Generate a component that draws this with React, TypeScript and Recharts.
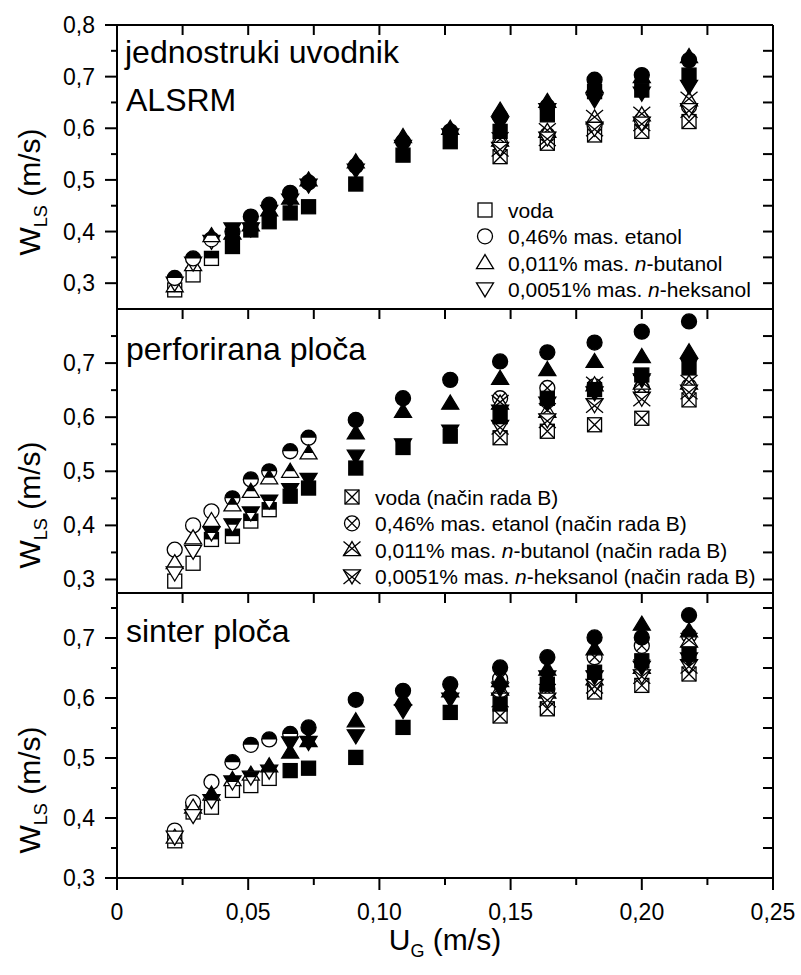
import { ScatterChart, Scatter, XAxis, YAxis, ReferenceLine } from 'recharts';

// superficial gas velocity U_G (m/s)
const UG = [0.022, 0.029, 0.036, 0.044, 0.051, 0.058, 0.066, 0.073, 0.091, 0.109, 0.127, 0.146, 0.164, 0.182, 0.2, 0.218];
// points measured in "način rada B"
const UG_B = [0.146, 0.164, 0.182, 0.2, 0.218];

const X_TICKS = [0, 0.025, 0.05, 0.075, 0.1, 0.125, 0.15, 0.175, 0.2, 0.225, 0.25];
const Y_TICKS_1 = [0.3, 0.35, 0.4, 0.45, 0.5, 0.55, 0.6, 0.65, 0.7, 0.75, 0.8];
const Y_TICKS_23 = [0.3, 0.35, 0.4, 0.45, 0.5, 0.55, 0.6, 0.65, 0.7, 0.75];

// o = open, h = half filled, f = filled
// jednostruki uvodnik (ALSRM)
const P1_VODA = [0.287, 0.316, 0.348, 0.371, 0.403, 0.419, 0.436, 0.448, 0.492, 0.548, 0.574, 0.594, 0.626, 0.671, 0.674, 0.703];
const P1_ETANOL = [0.31, 0.348, 0.385, 0.4, 0.429, 0.452, 0.475, 0.495, 0.527, 0.574, 0.594, 0.623, 0.642, 0.694, 0.703, 0.732];
const P1_BUTANOL = [0.295, 0.336, 0.392, 0.397, 0.413, 0.442, 0.465, 0.5, 0.535, 0.584, 0.6, 0.635, 0.652, 0.681, 0.7, 0.739];
const P1_HEKSANOL = [0.3, 0.339, 0.381, 0.405, 0.405, 0.439, 0.461, 0.49, 0.519, 0.565, 0.587, 0.61, 0.636, 0.655, 0.668, 0.681];
const P1_REG = ['oohfffffffffffff', 'hhhfffffffffffff', 'oohfffffffffffff', 'ooofffffffffffff'];
const P1_VODA_B = [0.545, 0.571, 0.587, 0.594, 0.613];
const P1_ETANOL_B = [0.571, 0.587, 0.606, 0.616, 0.642];
const P1_BUTANOL_B = [0.577, 0.594, 0.62, 0.626, 0.655];
const P1_HEKSANOL_B = [0.561, 0.581, 0.6, 0.61, 0.636];

// perforirana ploča
const P2_VODA = [0.297, 0.33, 0.374, 0.38, 0.408, 0.429, 0.454, 0.469, 0.506, 0.544, 0.565, 0.601, 0.635, 0.651, 0.678, 0.691];
const P2_ETANOL = [0.355, 0.4, 0.426, 0.45, 0.485, 0.5, 0.537, 0.562, 0.595, 0.635, 0.669, 0.703, 0.72, 0.738, 0.758, 0.777];
const P2_BUTANOL = [0.331, 0.377, 0.409, 0.438, 0.463, 0.488, 0.5, 0.534, 0.571, 0.611, 0.626, 0.672, 0.688, 0.703, 0.712, 0.721];
const P2_HEKSANOL = [0.312, 0.352, 0.386, 0.401, 0.423, 0.445, 0.466, 0.485, 0.528, 0.549, 0.574, 0.611, 0.626, 0.645, 0.669, 0.697];
const P2_REG = ['oohhhhffffffffff', 'ooohhhhhffffffff', 'ooohhhhhffffffff', 'oohhhhffffffffff'];
const P2_VODA_B = [0.562, 0.574, 0.586, 0.598, 0.632];
const P2_ETANOL_B = [0.635, 0.654, 0.657, 0.654, 0.657];
const P2_BUTANOL_B = [0.626, 0.611, 0.66, 0.663, 0.663];
const P2_HEKSANOL_B = [0.583, 0.595, 0.623, 0.635, 0.648];

// sinter ploča
const P3_VODA = [0.362, 0.41, 0.418, 0.446, 0.454, 0.466, 0.479, 0.483, 0.501, 0.551, 0.576, 0.59, 0.623, 0.643, 0.662, 0.673];
const P3_ETANOL = [0.379, 0.426, 0.46, 0.493, 0.522, 0.531, 0.54, 0.551, 0.597, 0.612, 0.623, 0.651, 0.668, 0.701, 0.701, 0.738];
const P3_BUTANOL = [0.368, 0.418, 0.44, 0.464, 0.473, 0.487, 0.51, 0.529, 0.562, 0.598, 0.612, 0.629, 0.648, 0.682, 0.723, 0.712];
const P3_HEKSANOL = [0.368, 0.404, 0.429, 0.46, 0.468, 0.478, 0.525, 0.526, 0.537, 0.579, 0.598, 0.615, 0.635, 0.635, 0.651, 0.665];
const P3_REG = ['ooooooffffffffff', 'ooohhhhfffffffff', 'oohhhfffffffffff', 'oohhhhffffffffff'];
const P3_VODA_B = [0.57, 0.582, 0.61, 0.621, 0.64];
const P3_ETANOL_B = [0.632, 0.615, 0.668, 0.687, 0.704];
const P3_BUTANOL_B = [0.615, 0.61, 0.632, 0.651, 0.695];
const P3_HEKSANOL_B = [0.598, 0.598, 0.621, 0.637, 0.654];

const LEGEND_1 = ['voda', '0,46% mas. etanol', '0,011% mas. n-butanol', '0,0051% mas. n-heksanol'];

const KINDS = ['sq', 'ci', 'up', 'dn'];
const FONT = '"Liberation Sans", Arial, sans-serif';
const INK = '#000';

const Marker = ({ cx, cy, kind, mode }) => {
  if (cx == null || cy == null) return null;
  const sw = 1.3;
  const fill = mode === 'f' ? INK : '#fff';
  if (kind === 'sq') {
    const s = 7;
    return (
      <g>
        <rect x={cx - s} y={cy - s} width={2 * s} height={2 * s} fill={fill} stroke={INK} strokeWidth={sw} />
        {mode === 'h' && <rect x={cx - s} y={cy - s} width={2 * s} height={s} fill={INK} />}
        {mode === 'x' && <path d={`M${cx - s},${cy - s}L${cx + s},${cy + s}M${cx + s},${cy - s}L${cx - s},${cy + s}`} stroke={INK} strokeWidth={sw} />}
      </g>
    );
  }
  if (kind === 'ci') {
    const r = 7.5;
    const d = r * 0.707;
    return (
      <g>
        <circle cx={cx} cy={cy} r={r} fill={fill} stroke={INK} strokeWidth={sw} />
        {mode === 'h' && <path d={`M${cx - r},${cy}A${r},${r} 0 0 1 ${cx + r},${cy}Z`} fill={INK} />}
        {mode === 'x' && <path d={`M${cx - d},${cy - d}L${cx + d},${cy + d}M${cx + d},${cy - d}L${cx - d},${cy + d}`} stroke={INK} strokeWidth={sw} />}
      </g>
    );
  }
  const b = 8.5;
  const a = 8;
  const c = 6;
  const w = (b * a) / (a + c);
  if (kind === 'up') {
    return (
      <g>
        <path d={`M${cx},${cy - a}L${cx + b},${cy + c}L${cx - b},${cy + c}Z`} fill={fill} stroke={INK} strokeWidth={sw} />
        {mode === 'h' && <path d={`M${cx},${cy - a}L${cx + w},${cy}L${cx - w},${cy}Z`} fill={INK} />}
        {mode === 'x' && <path d={`M${cx - b},${cy + c}L${cx + b},${cy - a}M${cx + b},${cy + c}L${cx - b},${cy - a}`} stroke={INK} strokeWidth={sw} />}
      </g>
    );
  }
  return (
    <g>
      <path d={`M${cx},${cy + a}L${cx + b},${cy - c}L${cx - b},${cy - c}Z`} fill={fill} stroke={INK} strokeWidth={sw} />
      {mode === 'h' && <path d={`M${cx - b},${cy - c}L${cx + b},${cy - c}L${cx + w},${cy}L${cx - w},${cy}Z`} fill={INK} />}
      {mode === 'x' && <path d={`M${cx - b},${cy - c}L${cx + b},${cy + a}M${cx + b},${cy - c}L${cx - b},${cy + a}`} stroke={INK} strokeWidth={sw} />}
    </g>
  );
};

const isMajorX = (v) => Math.abs(v * 20 - Math.round(v * 20)) < 1e-6;
const isMajorY = (v) => Math.abs(v * 10 - Math.round(v * 10)) < 1e-6;
const fmtX = (v) => (v === 0 ? '0' : v.toFixed(2).replace('.', ','));
const fmtY = (v) => v.toFixed(1).replace('.', ',');

const BottomTick = ({ x, y, payload, labels }) => {
  if (!labels) return <g />;
  const major = isMajorX(payload.value);
  return (
    <g>
      <line x1={x} x2={x} y1={y} y2={y + (major ? 12 : 7)} stroke={INK} strokeWidth={2} />
      {major && (
        <text x={x} y={y + 42} textAnchor="middle" fontSize={23} fontFamily={FONT} fill={INK}>
          {fmtX(payload.value)}
        </text>
      )}
    </g>
  );
};

const LeftTick = ({ x, y, payload }) => {
  const major = isMajorY(payload.value);
  return (
    <g>
      <line x1={x - (major ? 12 : 6)} x2={x} y1={y} y2={y} stroke={INK} strokeWidth={2} />
      {major && (
        <text x={x - 22} y={y + 8} textAnchor="end" fontSize={23} fontFamily={FONT} fill={INK}>
          {fmtY(payload.value)}
        </text>
      )}
    </g>
  );
};

const buildSeries = (vals, reg, valsB) => {
  const out = [];
  valsB.forEach((arr, li) => {
    out.push({ kind: KINDS[li], mode: 'x', data: UG_B.map((x, i) => ({ x, y: arr[i] })) });
  });
  ['o', 'h', 'f'].forEach((m) => {
    vals.forEach((arr, li) => {
      const data = UG.map((x, i) => ({ x, y: arr[i] })).filter((_, i) => reg[li][i] === m);
      if (data.length) out.push({ kind: KINDS[li], mode: m, data });
    });
  });
  return out;
};

const PANELS = [
  {
    top: 25, bottom: 309, domain: [0.25, 0.8], yTicks: Y_TICKS_1, last: false,
    series: buildSeries([P1_VODA, P1_ETANOL, P1_BUTANOL, P1_HEKSANOL], P1_REG, [P1_VODA_B, P1_ETANOL_B, P1_BUTANOL_B, P1_HEKSANOL_B]),
  },
  {
    top: 309, bottom: 593, domain: [0.275, 0.8], yTicks: Y_TICKS_23, last: false,
    series: buildSeries([P2_VODA, P2_ETANOL, P2_BUTANOL, P2_HEKSANOL], P2_REG, [P2_VODA_B, P2_ETANOL_B, P2_BUTANOL_B, P2_HEKSANOL_B]),
  },
  {
    top: 593, bottom: 878, domain: [0.3, 0.775], yTicks: Y_TICKS_23, last: true,
    series: buildSeries([P3_VODA, P3_ETANOL, P3_BUTANOL, P3_HEKSANOL], P3_REG, [P3_VODA_B, P3_ETANOL_B, P3_BUTANOL_B, P3_HEKSANOL_B]),
  },
];

const W = 801;
const H = 975;
const AX_H = 2;
const Y_LEFT_W = 117;
const RIGHT_M = 28;
const X_MAX = 0.25;
const TICK_IN = 10; // px, inward ticks on top/right edges
const axisLine = { stroke: INK, strokeWidth: 2 };

const Panel = ({ p }) => {
  const edge = { xAxisId: 'b', yAxisId: 'l', stroke: INK, strokeWidth: 2, ifOverflow: 'visible' };
  return (
    <div style={{ position: 'absolute', left: 0, top: 0 }}>
      <ScatterChart width={W} height={H} margin={{ top: p.top, right: RIGHT_M, bottom: H - p.bottom - AX_H, left: 0 }}>
        <XAxis xAxisId="b" type="number" dataKey="x" domain={[0, X_MAX]} ticks={X_TICKS} interval={0} orientation="bottom"
          height={AX_H} tickSize={0} tickMargin={0} axisLine={axisLine} tickLine={false}
          tick={(t) => <BottomTick {...t} labels={p.last} />} allowDataOverflow />
        <YAxis yAxisId="l" type="number" dataKey="y" domain={p.domain} ticks={p.yTicks} interval={0} orientation="left"
          width={Y_LEFT_W} tickSize={0} tickMargin={0} axisLine={axisLine} tickLine={false}
          tick={(t) => <LeftTick {...t} />} allowDataOverflow />
        {/* closing frame: top and right edges */}
        <ReferenceLine {...edge} y={p.domain[1]} />
        <ReferenceLine {...edge} x={X_MAX} />
        {p.series.map((s, i) => (
          <Scatter key={i} xAxisId="b" yAxisId="l" data={s.data} isAnimationActive={false}
            shape={(q) => <Marker cx={q.cx} cy={q.cy} kind={s.kind} mode={s.mode} />} />
        ))}
      </ScatterChart>
    </div>
  );
};

// inward mirror ticks on the top and right edges of each panel, drawn on the top layer
const MirrorTicks = ({ p }) => {
  const [y0, y1] = p.domain;
  const plotW = W - RIGHT_M - Y_LEFT_W;
  const right = W - RIGHT_M;
  const px = (v) => Y_LEFT_W + (v / X_MAX) * plotW;
  const py = (v) => p.bottom - ((v - y0) / (y1 - y0)) * (p.bottom - p.top);
  return (
    <g stroke={INK} strokeWidth={2}>
      {X_TICKS.map((v, i) => (
        <line key={`t${i}`} x1={px(v)} x2={px(v)} y1={p.top} y2={p.top + TICK_IN} />
      ))}
      {p.yTicks.map((v, i) => (
        <line key={`r${i}`} x1={right - TICK_IN} x2={right} y1={py(v)} y2={py(v)} />
      ))}
    </g>
  );
};

const LegendRows = ({ x, y, mode, suffix }) => (
  <g>
    {LEGEND_1.map((label, i) => {
      const parts = label.split('n-');
      return (
        <g key={i}>
          <Marker cx={x} cy={y + i * 26.3 - 8} kind={KINDS[i]} mode={mode} />
          <text x={x + 23} y={y + i * 26.3} fontSize={21} fontFamily={FONT} fill={INK}>
            {parts.length > 1 ? (
              <>
                {parts[0]}
                <tspan fontStyle="italic">n</tspan>-{parts[1]}
              </>
            ) : (
              label
            )}
            {suffix}
          </text>
        </g>
      );
    })}
  </g>
);

const WLS = ({ cy }) => (
  <text transform={`translate(40,${cy}) rotate(-90)`} textAnchor="middle" fontSize={30} fontFamily={FONT} fill={INK}>
    W<tspan fontSize={18} dy={7}>LS</tspan>
    <tspan dy={-7}> (m/s)</tspan>
  </text>
);

const Overlay = () => (
  <svg width={W} height={H} style={{ position: 'absolute', left: 0, top: 0, pointerEvents: 'none' }}>
    {PANELS.map((p, i) => (
      <MirrorTicks key={i} p={p} />
    ))}
    <g fontFamily={FONT} fill={INK} fontSize={32}>
      <text x={125} y={63}>jednostruki uvodnik</text>
      <text x={126} y={111}>ALSRM</text>
      <text x={126} y={360}>perforirana ploča</text>
      <text x={126} y={642}>sinter ploča</text>
    </g>
    <LegendRows x={485} y={218} mode="o" suffix="" />
    <LegendRows x={352} y={505} mode="x" suffix=" (način rada B)" />
    <WLS cy={192} />
    <WLS cy={505} />
    <WLS cy={790} />
    <text x={445} y={950} textAnchor="middle" fontSize={30} fontFamily={FONT} fill={INK}>
      U<tspan fontSize={18} dy={7}>G</tspan>
      <tspan dy={-7}> (m/s)</tspan>
    </text>
  </svg>
);

export default function App() {
  return (
    <div style={{ position: 'absolute', left: 0, top: 0, width: W, height: H, background: '#fff' }}>
      {PANELS.map((p, i) => (
        <Panel key={i} p={p} />
      ))}
      <Overlay />
    </div>
  );
}
